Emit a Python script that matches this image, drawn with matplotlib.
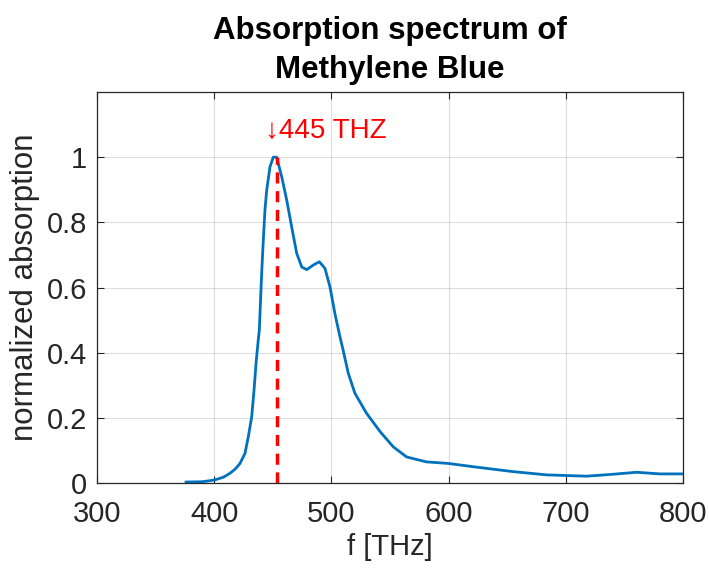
import matplotlib
matplotlib.use("Agg")
import matplotlib.pyplot as plt
import numpy as np

plt.rcParams['font.family'] = ['Liberation Sans', 'DejaVu Sans']

freq = [376, 390, 400, 408, 413.5, 418, 422, 426.3, 429.1, 432, 434, 435.7, 437.6,
        438.5, 440.5, 441.9, 443.3, 444.8, 447.6, 450.4, 453.3, 457.6, 461.9,
        466.1, 470.4, 474.7, 479, 484.6, 489.7, 494.5, 498.8, 503, 507.3, 510,
        514.4, 520, 530, 541.5, 552.8, 564.2, 581, 600, 621, 655, 683.7, 717.8,
        740.5, 760.5, 780.4, 800]
absorb = [0.003, 0.004, 0.009, 0.018, 0.03, 0.043, 0.06, 0.091, 0.142, 0.203, 0.285,
          0.367, 0.439, 0.469, 0.643, 0.745, 0.837, 0.899, 0.970, 1.0, 1.0, 0.94,
          0.868, 0.786, 0.705, 0.663, 0.655, 0.669, 0.679, 0.659, 0.602, 0.52,
          0.449, 0.408, 0.337, 0.276, 0.214, 0.158, 0.111, 0.08, 0.065, 0.06, 0.05,
          0.035, 0.025, 0.021, 0.027, 0.033, 0.028, 0.028]

peak_line_x = 454
peak_label = "↓445 THZ"
xticks = [300, 400, 500, 600, 700, 800]
yticks = [0, 0.2, 0.4, 0.6, 0.8, 1]
ytick_labels = ["0", "0.2", "0.4", "0.6", "0.8", "1"]

fig = plt.figure(figsize=(7.09, 5.69), dpi=100)
ax = fig.add_axes([0.1368, 0.1511, 0.9633 - 0.1368, 0.8383 - 0.1511])

ax.plot(freq, absorb, color='#0072BD', lw=2.0, zorder=3)
ax.plot([peak_line_x, peak_line_x], [0, 1.0], color='red', lw=2.5,
        linestyle=(0, (3.2, 2.2)), zorder=4)
ax.text(peak_line_x - 11, 1.08, peak_label, color='red', fontsize=20,
        ha='left', va='center', family=['Liberation Sans', 'DejaVu Sans'])

ax.set_xlim(300, 800)
ax.set_ylim(0, 1.2)
ax.set_xticks(xticks)
ax.set_yticks(yticks)
ax.set_yticklabels(ytick_labels)
ax.grid(True, color='#262626', alpha=0.15, lw=0.8)
ax.set_axisbelow(True)
ax.tick_params(direction='in', length=5, width=0.8, colors='#262626',
               labelsize=21, top=True, right=True)
ax.tick_params(axis='x', pad=12)
ax.tick_params(axis='y', pad=7)
for s in ax.spines.values():
    s.set_color('#262626')
    s.set_linewidth(0.9)

ax.set_xlabel('f [THz]', fontsize=21, color='#262626', labelpad=4)
ax.set_ylabel('normalized absorption', fontsize=22.5, color='#262626', labelpad=5)
ax.set_title('Absorption spectrum of\nMethylene Blue', fontsize=22.5,
             fontweight='bold', color='black', pad=10, linespacing=1.4)

fig.savefig('out.png', dpi=100)
